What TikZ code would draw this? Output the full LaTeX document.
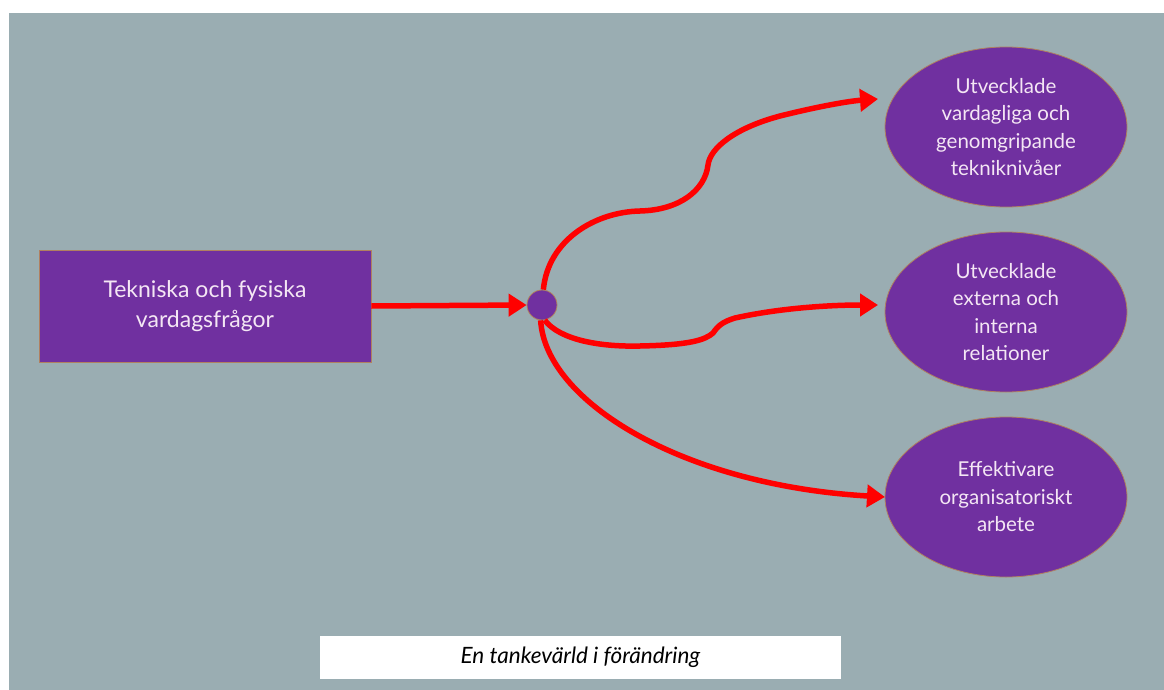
\documentclass[tikz,border=0pt]{standalone}
\usepackage{fontspec}
\setmainfont{Lato}
\usetikzlibrary{arrows.meta,shapes.geometric}
\definecolor{slate}{HTML}{9AADB2}
\definecolor{plum}{HTML}{7030A0}
\definecolor{rim}{HTML}{B08060}
\definecolor{lilac}{HTML}{F4E6F4}
\definecolor{flow}{HTML}{FF0000}
\begin{document}
\begin{tikzpicture}[x=1pt,y=-1pt,
  box/.style={draw=rim,line width=0.8pt,fill=plum,text=lilac,align=center,
    inner sep=0pt,font=\fontsize{23}{30}\selectfont},
  goal/.style={ellipse,draw=rim,line width=0.8pt,fill=plum,text=lilac,align=center,
    minimum width=242pt,minimum height=160pt,inner sep=0pt,
    font=\fontsize{20.5}{27.5}\selectfont},
  hub/.style={circle,draw=rim,line width=0.8pt,fill=plum,minimum size=30pt,inner sep=0pt},
  flowline/.style={draw=flow,line width=5.5pt,
    -{Triangle[length=18pt,width=22pt]}},
  caption/.style={fill=white,minimum width=521pt,minimum height=43pt,inner sep=0pt,
    font=\fontsize{22.5}{24}\selectfont\itshape}]
\useasboundingbox (0,0) rectangle (1164,690);
\fill[white] (0,0) rectangle (1164,690);
\fill[slate] (9,13) rectangle (1164,690);

% source box and hub
\node[box,minimum width=332pt,minimum height=112pt] (src) at (205,306)
  {Tekniska och fysiska\\vardagsfrågor};
\node[hub] (hub) at (542,305) {};

% outcome ellipses
\node[goal] (e1) at (1006,127)
  {Utvecklade\\vardagliga och\\genomgripande\\tekniknivåer};
\node[goal] (e2) at (1006,312)
  {Utvecklade\\externa och\\interna\\relationer};
\node[goal] (e3) at (1006,497)
  {Effektivare\\organisatoriskt\\arbete};

% arrow tip positions
\coordinate (t1) at (878,99);
\coordinate (t2) at (878,305);
\coordinate (t3) at (885,497);

% connectors
\draw[flowline] (src.east) -- (hub.west);
\draw[flowline] (hub.85) .. controls (548,240) and (595,212) .. (640,211)
  .. controls (680,210) and (705,190) .. (708,165)
  .. controls (710,148) and (735,128) .. (780,116)
  .. controls (820,106) and (850,101) .. (t1);
\draw[flowline] (hub.-80) .. controls (560,340) and (600,347) .. (640,346)
  .. controls (690,345) and (705,340) .. (713,333)
  .. controls (718,326) and (722,322) .. (735,318)
  .. controls (780,308) and (830,305) .. (t2);
\draw[flowline] (hub.-95) .. controls (545,400) and (680,485) .. (t3);

% caption
\node[caption] (cap) at (580.5,657.5) {En tankevärld i förändring};
\end{tikzpicture}
\end{document}
